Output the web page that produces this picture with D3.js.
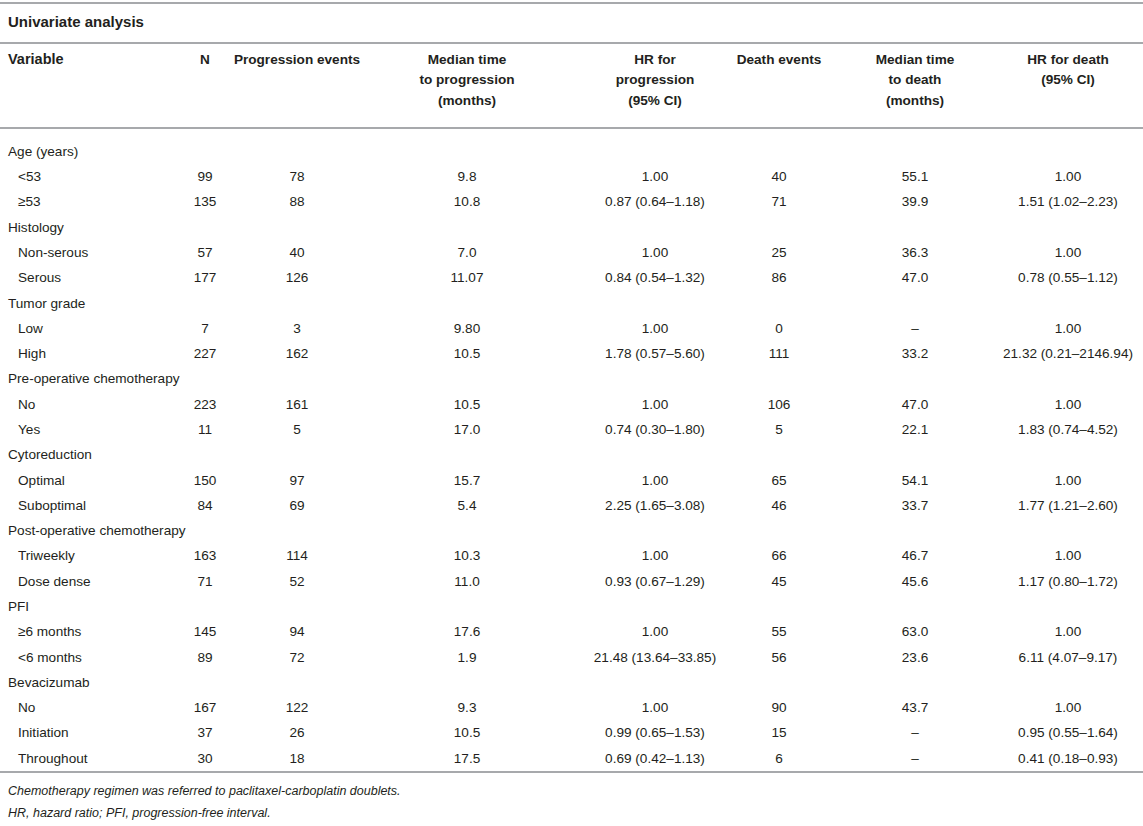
<!DOCTYPE html>
<html>
<head>
<meta charset="utf-8">
<script src="https://cdn.jsdelivr.net/npm/d3@7"></script>
<style>
  body { margin: 0; background: #fff; }
  text { font-family: "Liberation Sans", Arial, Helvetica, sans-serif; font-size: 13.6px; fill: #231f20; }
</style>
</head>
<body>
<script>
/* table data, one array per column */
var labels = ["Age (years)", "<53", "\u226553", "Histology", "Non-serous", "Serous",
  "Tumor grade", "Low", "High", "Pre-operative chemotherapy", "No", "Yes",
  "Cytoreduction", "Optimal", "Suboptimal", "Post-operative chemotherapy", "Triweekly", "Dose dense",
  "PFI", "\u22656 months", "<6 months", "Bevacizumab", "No", "Initiation", "Throughout"];
var isGroup = [1,0,0, 1,0,0, 1,0,0, 1,0,0, 1,0,0, 1,0,0, 1,0,0, 1,0,0,0];
var nVals = ["","99","135", "","57","177", "","7","227", "","223","11", "","150","84", "","163","71", "","145","89", "","167","37","30"];
var progEvents = ["","78","88", "","40","126", "","3","162", "","161","5", "","97","69", "","114","52", "","94","72", "","122","26","18"];
var medProg = ["","9.8","10.8", "","7.0","11.07", "","9.80","10.5", "","10.5","17.0", "","15.7","5.4", "","10.3","11.0", "","17.6","1.9", "","9.3","10.5","17.5"];
var hrProg = ["","1.00","0.87 (0.64\u20131.18)", "","1.00","0.84 (0.54\u20131.32)", "","1.00","1.78 (0.57\u20135.60)",
  "","1.00","0.74 (0.30\u20131.80)", "","1.00","2.25 (1.65\u20133.08)", "","1.00","0.93 (0.67\u20131.29)",
  "","1.00","21.48 (13.64\u201333.85)", "","1.00","0.99 (0.65\u20131.53)","0.69 (0.42\u20131.13)"];
var deathEvents = ["","40","71", "","25","86", "","0","111", "","106","5", "","65","46", "","66","45", "","55","56", "","90","15","6"];
var medDeath = ["","55.1","39.9", "","36.3","47.0", "","\u2013","33.2", "","47.0","22.1", "","54.1","33.7", "","46.7","45.6", "","63.0","23.6", "","43.7","\u2013","\u2013"];
var hrDeath = ["","1.00","1.51 (1.02\u20132.23)", "","1.00","0.78 (0.55\u20131.12)", "","1.00","21.32 (0.21\u20132146.94)",
  "","1.00","1.83 (0.74\u20134.52)", "","1.00","1.77 (1.21\u20132.60)", "","1.00","1.17 (0.80\u20131.72)",
  "","1.00","6.11 (4.07\u20139.17)", "","1.00","0.95 (0.55\u20131.64)","0.41 (0.18\u20130.93)"];

var colKeys = ["n", "pe", "mp", "hp", "de", "md", "hd"];
var colHeads = [["N"], ["Progression events"], ["Median time", "to progression", "(months)"],
  ["HR for", "progression", "(95% CI)"], ["Death events"], ["Median time", "to death", "(months)"],
  ["HR for death", "(95% CI)"]];
var colData = [nVals, progEvents, medProg, hrProg, deathEvents, medDeath, hrDeath];
var footnotes = ["Chemotherapy regimen was referred to paclitaxel-carboplatin doublets.",
  "HR, hazard ratio; PFI, progression-free interval."];

var W = 1143, H = 826;
var svg = d3.select("body").append("svg").attr("width", W).attr("height", H);

var x = d3.scaleOrdinal().domain(colKeys).range([205, 297, 467, 655, 779, 915, 1068]);
var y = d3.scaleLinear().domain([0, labels.length - 1]).range([151, 758]);
var yHead = d3.scaleLinear().domain([0, 2]).range([59, 100]);

/* rules */
svg.selectAll("line.rule")
   .data([3, 43, 128, 772])
   .enter().append("line")
   .attr("x1", 0).attr("x2", W)
   .attr("y1", function(d) { return d; }).attr("y2", function(d) { return d; })
   .attr("stroke", "#a7a9ac").attr("stroke-width", 1.8);

svg.append("text").attr("x", 8).attr("y", 22).attr("dy", "0.35em")
   .style("font-weight", "bold").style("font-size", "15px").text("Univariate analysis");

/* header */
svg.append("text").attr("x", 8).attr("y", yHead(0)).attr("dy", "0.35em")
   .style("font-weight", "bold").style("font-size", "14.5px").text("Variable");
colHeads.forEach(function(lines, i) {
  svg.selectAll(null).data(lines).enter().append("text")
     .attr("x", x(colKeys[i]))
     .attr("y", function(d, j) { return yHead(j); })
     .attr("dy", "0.35em")
     .attr("text-anchor", "middle")
     .style("font-weight", "bold")
     .text(function(d) { return d; });
});

/* body rows */
svg.selectAll("text.lab").data(labels).enter().append("text")
   .attr("class", "lab")
   .attr("x", function(d, i) { return isGroup[i] ? 8 : 18; })
   .attr("y", function(d, i) { return y(i); })
   .attr("dy", "0.35em")
   .text(function(d) { return d; });

colData.forEach(function(vals, c) {
  svg.selectAll(null).data(vals).enter().append("text")
     .attr("x", x(colKeys[c]))
     .attr("y", function(d, i) { return y(i); })
     .attr("dy", "0.35em")
     .attr("text-anchor", "middle")
     .text(function(d) { return d; });
});

/* footnotes */
svg.selectAll("text.foot").data(footnotes).enter().append("text")
   .attr("x", 8)
   .attr("y", function(d, i) { return 791 + i * 22; })
   .attr("dy", "0.35em")
   .style("font-style", "italic")
   .style("font-size", "12.5px")
   .text(function(d) { return d; });
</script>
</body>
</html>
